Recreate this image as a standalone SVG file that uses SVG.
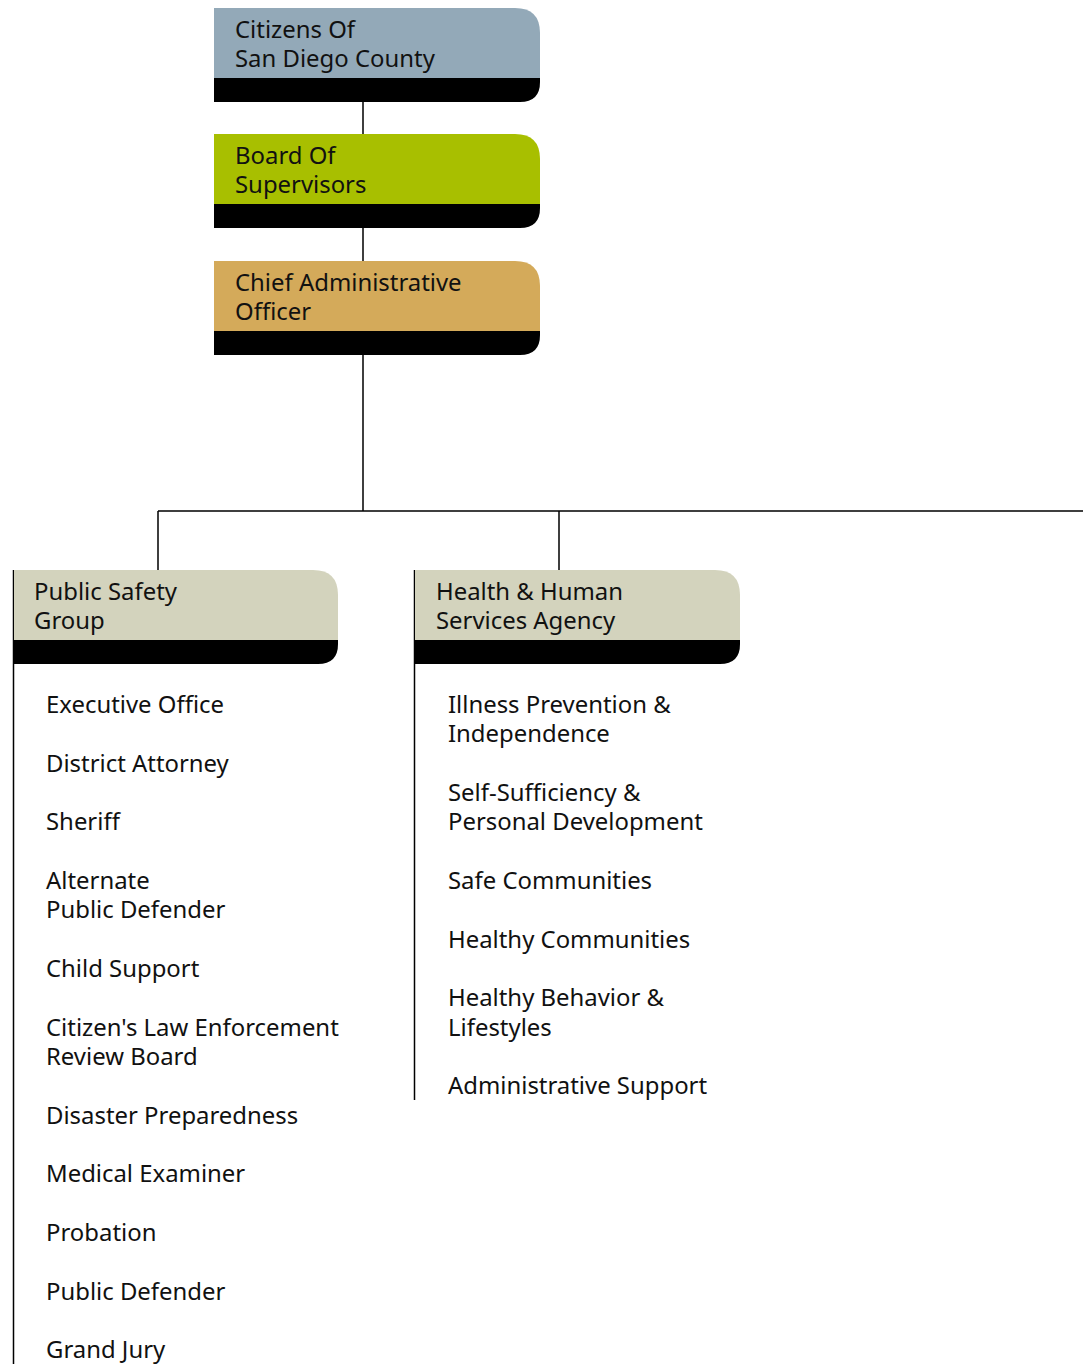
<svg xmlns="http://www.w3.org/2000/svg" width="1088" height="1364" viewBox="0 0 1088 1364">
<style>
.t{font-family:"Noto Sans","Open Sans","Liberation Sans",sans-serif;font-size:23.9px;fill:#111}
.k{fill:#000}
.ln{stroke:#000;stroke-width:1.5;fill:none}
</style>
<rect width="1088" height="1364" fill="#fff"/>
<g id="connectors">
<path class="ln" d="M363,102 V134 M363,228 V261 M363,355 V511 M158,511 H1083 M158,511 V570 M559,511 V570"/>
<path class="ln" d="M13.5,570 V1364 M414.5,570 V1100"/>
</g>
<g id="citizens">
<path d="M214,8 H515 Q540,8 540,33 V78 H214 Z" fill="#93a9b8"/>
<path class="k" d="M214,78 H540 V82 Q540,102 520,102 H214 Z"/>
<text class="t" x="235" y="38">Citizens Of<tspan x="235" dy="29">San Diego County</tspan></text>
</g>
<g id="board">
<path d="M214,134 H515 Q540,134 540,159 V204 H214 Z" fill="#a8bf00"/>
<path class="k" d="M214,204 H540 V208 Q540,228 520,228 H214 Z"/>
<text class="t" x="235" y="164">Board Of<tspan x="235" dy="29">Supervisors</tspan></text>
</g>
<g id="cao">
<path d="M214,261 H515 Q540,261 540,286 V331 H214 Z" fill="#d4aa5a"/>
<path class="k" d="M214,331 H540 V335 Q540,355 520,355 H214 Z"/>
<text class="t" x="235" y="291">Chief Administrative<tspan x="235" dy="29">Officer</tspan></text>
</g>
<g id="public-safety">
<path d="M14,570 H313 Q338,570 338,595 V640 H14 Z" fill="#d3d3bd"/>
<path class="k" d="M14,640 H338 V644 Q338,664 318,664 H14 Z"/>
<text class="t" x="34" y="600">Public Safety<tspan x="34" dy="29">Group</tspan></text>
<text class="t" x="46" y="713">Executive Office</text>
<text class="t" x="46" y="772">District Attorney</text>
<text class="t" x="46" y="830">Sheriff</text>
<text class="t" x="46" y="889">Alternate<tspan x="46" dy="29">Public Defender</tspan></text>
<text class="t" x="46" y="977">Child Support</text>
<text class="t" x="46" y="1036">Citizen's Law Enforcement<tspan x="46" dy="29">Review Board</tspan></text>
<text class="t" x="46" y="1124">Disaster Preparedness</text>
<text class="t" x="46" y="1182">Medical Examiner</text>
<text class="t" x="46" y="1241">Probation</text>
<text class="t" x="46" y="1300">Public Defender</text>
<text class="t" x="46" y="1358">Grand Jury</text>
</g>
<g id="hhsa">
<path d="M415,570 H715 Q740,570 740,595 V640 H415 Z" fill="#d3d3bd"/>
<path class="k" d="M415,640 H740 V644 Q740,664 720,664 H415 Z"/>
<text class="t" x="436" y="600">Health &amp; Human<tspan x="436" dy="29">Services Agency</tspan></text>
<text class="t" x="448" y="713">Illness Prevention &amp;<tspan x="448" dy="29">Independence</tspan></text>
<text class="t" x="448" y="801">Self-Sufficiency &amp;<tspan x="448" dy="29">Personal Development</tspan></text>
<text class="t" x="448" y="889">Safe Communities</text>
<text class="t" x="448" y="948">Healthy Communities</text>
<text class="t" x="448" y="1006">Healthy Behavior &amp;<tspan x="448" dy="30">Lifestyles</tspan></text>
<text class="t" x="448" y="1094">Administrative Support</text>
</g>
</svg>
